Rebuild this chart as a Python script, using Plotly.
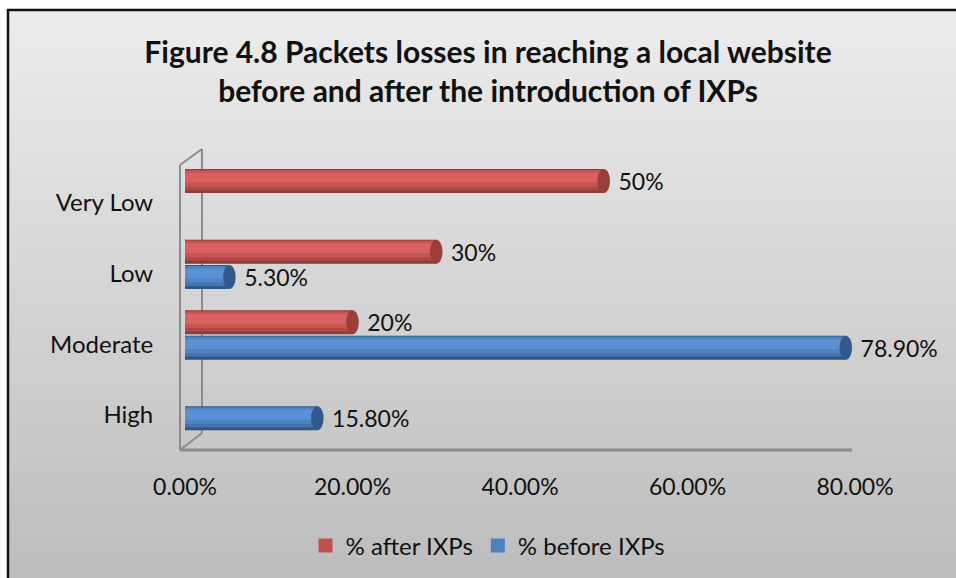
import plotly.graph_objects as go

W, H = 956, 578

categories = ["High", "Moderate", "Low", "Very Low"]
after_ixp = [None, 0.20, 0.30, 0.50]
before_ixp = [0.158, 0.789, 0.053, None]
x_ticks = [0, 0.2, 0.4, 0.6, 0.8]

def px(x):
    return x / W

def py(y):
    return 1 - y / H

fig = go.Figure()

BAR_W = 0.34
red_layers = [(0.0, BAR_W, "#8E3B39"), (0.04, 0.29, "#B04946"), (0.09, 0.23, "#C65552"),
              (0.15, 0.14, "#D8625F")]
blue_layers = [(0.0, BAR_W, "#2F5583"), (0.04, 0.29, "#4573AD"), (0.09, 0.23, "#4F83C3"),
               (0.15, 0.14, "#5A91D4")]

shapes = []

def add_series(name, vals, base_offset, layers, legend_color, cap_color, fmt):
    for i, (d, w, c) in enumerate(layers):
        fig.add_trace(go.Bar(
            y=categories, x=vals, orientation="h",
            offset=base_offset + d, width=w,
            marker=dict(color=c, line=dict(width=0)),
            showlegend=False, hoverinfo="skip",
            text=[("  " + fmt.format(v * 100) if v is not None else "") for v in vals] if i == 0 else None,
            textposition="outside" if i == 0 else "none",
            constraintext="none",
            textfont=dict(family="Lato", size=23, color="#111111"),
            cliponaxis=False,
        ))
    cap = 0.0075
    for idx, v in enumerate(vals):
        if v is None:
            continue
        y0 = idx + base_offset
        shapes.append(dict(type="circle", xref="x", yref="y", layer="below",
                           x0=-cap, x1=cap, y0=y0, y1=y0 + BAR_W,
                           fillcolor=layers[1][2], line=dict(width=0)))
        shapes.append(dict(type="circle", xref="x", yref="y", layer="above",
                           x0=v - cap, x1=v + cap, y0=y0, y1=y0 + BAR_W,
                           fillcolor=cap_color, line=dict(width=0)))
    fig.add_trace(go.Scatter(
        x=[None], y=[None], mode="markers", name=name,
        marker=dict(symbol="square", size=14, color=legend_color),
        showlegend=True,
    ))

add_series("% after IXPs", after_ixp, 0.14, red_layers, "#C0504D", "#9A3E3B", "{:.0f}%")
add_series("% before IXPs", before_ixp, -0.22, blue_layers, "#4F81BD", "#33598A", "{:.2f}%")

bg = []
top, bottom = 10, H
n = 80
c0 = (236, 236, 236)
c1 = (189, 189, 189)
for k in range(n):
    t = k / (n - 1)
    col = tuple(int(round(c0[j] + (c1[j] - c0[j]) * t)) for j in range(3))
    y0 = top + (bottom - top) * k / n
    y1 = top + (bottom - top) * (k + 1) / n + 0.6
    bg.append(dict(type="rect", xref="paper", yref="paper", layer="below",
                   x0=px(8), x1=1, y0=py(y1), y1=py(y0),
                   fillcolor="rgb(%d,%d,%d)" % col, line=dict(width=0)))
bg.append(dict(type="line", xref="paper", yref="paper", x0=px(8), x1=px(8), y0=0, y1=py(9),
               line=dict(color="#111111", width=2.5)))
bg.append(dict(type="line", xref="paper", yref="paper", x0=px(7), x1=1, y0=py(10), y1=py(10),
               line=dict(color="#111111", width=2.5)))

wall = "#8C8C8C"
for (xa, ya, xb, yb, w) in [(180, 165, 180, 450, 2), (202, 149, 202, 433, 2),
                            (180, 165, 202, 149, 2), (180, 450, 202, 433, 2),
                            (180, 450, 852, 450, 3)]:
    bg.append(dict(type="line", xref="paper", yref="paper", layer="below",
                   x0=px(xa), x1=px(xb), y0=py(ya), y1=py(yb),
                   line=dict(color=wall, width=w)))

fig.update_layout(
    width=W, height=H,
    margin=dict(l=0, r=0, t=0, b=0),
    paper_bgcolor="white",
    plot_bgcolor="rgba(0,0,0,0)",
    barmode="overlay",
    shapes=bg + shapes,
    title=dict(text="Figure 4.8 Packets losses in reaching a local website<br>before and after the introduction of IXPs",
               x=px(488), xanchor="center", y=py(63), yanchor="top",
               font=dict(family="Lato", size=30, color="#111111", weight="bold")),
    xaxis=dict(domain=[px(185), px(855)], range=[0, 0.8], tickvals=x_ticks,
               tickformat=".2%", showgrid=False, zeroline=False, showline=False,
               ticks="outside", ticklen=16, tickcolor="rgba(0,0,0,0)",
               tickfont=dict(family="Lato", size=23, color="#111111"), automargin=False),
    yaxis=dict(domain=[py(450), py(150)], range=[-0.5, 3.75], type="category",
               categoryorder="array", categoryarray=categories,
               showgrid=False, zeroline=False, showline=False,
               ticks="outside", ticklen=26, tickcolor="rgba(0,0,0,0)",
               tickfont=dict(family="Lato", size=24, color="#111111"), automargin=False),
    legend=dict(orientation="h", x=px(488), xanchor="center", y=py(546), yanchor="middle",
                font=dict(family="Lato", size=24, color="#111111"),
                bgcolor="rgba(0,0,0,0)", traceorder="normal", itemclick=False,
                itemwidth=30, tracegroupgap=0),
    showlegend=True,
)

fig.write_html("out.html",
               config={"displayModeBar": False},
               post_script="document.body.style.margin='0';document.body.style.overflow='hidden';")
